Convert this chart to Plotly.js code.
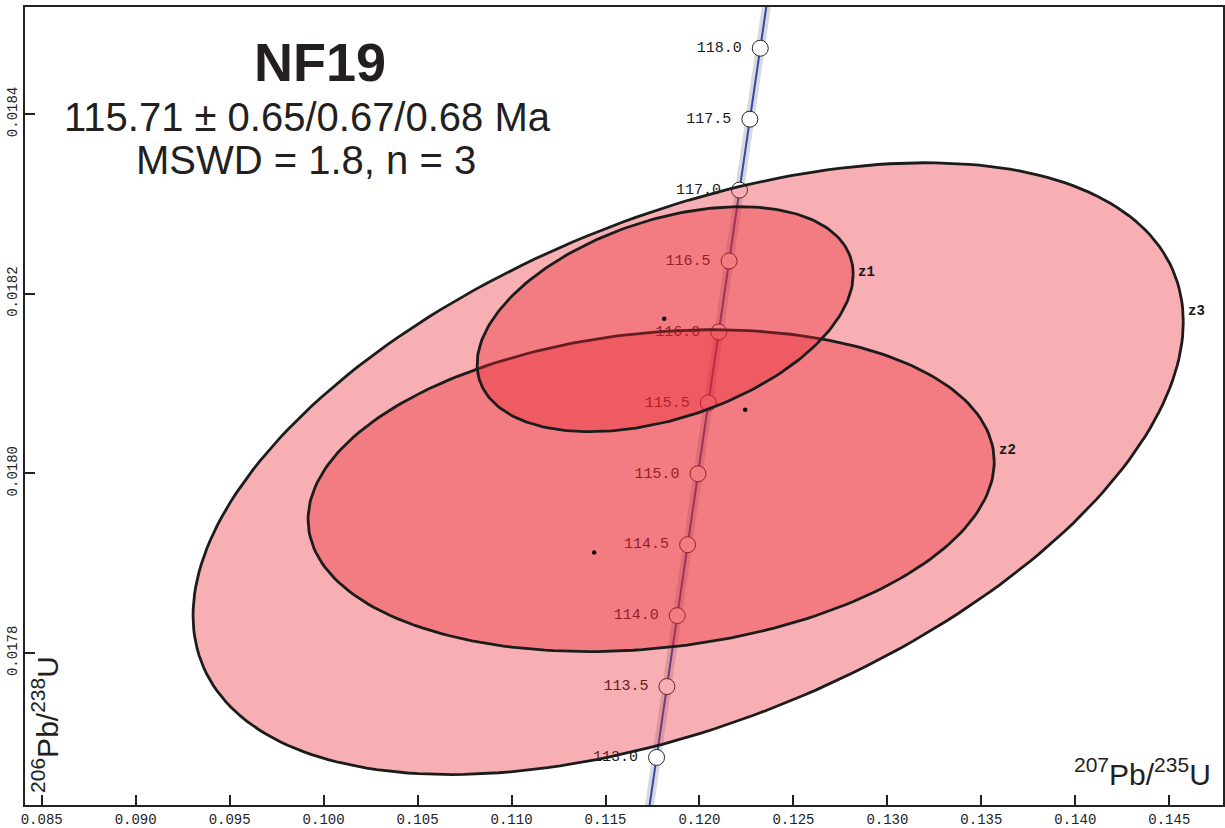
<!DOCTYPE html>
<html>
<head>
<meta charset="utf-8">
<script src="https://cdn.plot.ly/plotly-3.0.1.min.js"></script>
<style>
  html, body { margin: 0; padding: 0; background: #ffffff; }
  #chart { width: 1225px; height: 828px; }
</style>
</head>
<body>
<div id="chart"></div>
<script>
// ---------- data ----------
// Concordia age markers (Ma) and their 207Pb/235U, 206Pb/238U ratios
const markerAges = [113.0, 113.5, 114.0, 114.5, 115.0, 115.5, 116.0, 116.5, 117.0, 117.5, 118.0];
const markerX = [0.11771682, 0.11826735, 0.11881815, 0.11936922, 0.11992056, 0.12047217, 0.12102405, 0.12157621, 0.12212864, 0.12268134, 0.12323431];
const markerY = [0.01768366, 0.01776260, 0.01784154, 0.01792049, 0.01799945, 0.01807841, 0.01815738, 0.01823635, 0.01831533, 0.01839432, 0.01847331];
// Concordia curve points (extends past the frame)
const curveX = [0.11716656, 0.11771682, 0.11826735, 0.11881815, 0.11936922, 0.11992056, 0.12047217, 0.12102405, 0.12157621, 0.12212864, 0.12268134, 0.12323431, 0.12378755];
const curveY = [0.01760473, 0.01768366, 0.01776260, 0.01784154, 0.01792049, 0.01799945, 0.01807841, 0.01815738, 0.01823635, 0.01831533, 0.01839432, 0.01847331, 0.01855231];

// Analyses: error ellipses (centre, half-extent in x and y, correlation)
const grainNames = ['z1', 'z2', 'z3'];
const ellCenterX = [0.118175, 0.117430, 0.119399];
const ellCenterY = [0.0181716, 0.0179807, 0.0180052];
const ellHalfX = [0.010006, 0.018256, 0.026346];
const ellHalfY = [0.0001252, 0.0001792, 0.0003406];
const ellRho = [0.40, 0.18, 0.48];

// Small black points
const dotX = [0.118122, 0.122433, 0.114396];
const dotY = [0.0181722, 0.0180709, 0.0179117];

// x / y tick values
const xTicks = [0.085, 0.090, 0.095, 0.100, 0.105, 0.110, 0.115, 0.120, 0.125, 0.130, 0.135, 0.140, 0.145];
const yTicks = [0.0178, 0.0180, 0.0182, 0.0184];

const titleLines = ['NF19', '115.71 \u00b1 0.65/0.67/0.68 Ma', 'MSWD = 1.8, n = 3'];

// ---------- build ----------
const mono = 'Liberation Mono, Courier New, monospace';
const sans = 'Liberation Sans, Arial, Helvetica, sans-serif';

function ellipsePoints(i) {
  const xs = [], ys = [];
  const n = 240;
  const r = ellRho[i];
  const s = Math.sqrt(1 - r * r);
  for (let k = 0; k <= n; k++) {
    const t = 2 * Math.PI * k / n;
    xs.push(ellCenterX[i] + ellHalfX[i] * Math.cos(t));
    ys.push(ellCenterY[i] + ellHalfY[i] * (r * Math.cos(t) + s * Math.sin(t)));
  }
  return { xs, ys };
}

const traces = [];
// concordia uncertainty band
traces.push({
  x: curveX, y: curveY, mode: 'lines', type: 'scatter', hoverinfo: 'skip',
  line: { color: 'rgba(205,208,214,0.8)', width: 9 }, showlegend: false
});
// concordia line
traces.push({
  x: curveX, y: curveY, mode: 'lines', type: 'scatter', hoverinfo: 'skip',
  line: { color: '#3349a8', width: 2 }, showlegend: false
});
// age labels (offset by an invisible, larger marker)
traces.push({
  x: markerX, y: markerY, mode: 'markers+text', type: 'scatter',
  text: markerAges.map(a => a.toFixed(1)),
  textposition: 'middle left',
  textfont: { family: mono, size: 15, color: '#1a1a1a' },
  marker: { symbol: 'circle', size: 28, color: 'rgba(0,0,0,0)' },
  showlegend: false, cliponaxis: true, hoverinfo: 'skip'
});
// age markers
traces.push({
  x: markerX, y: markerY, mode: 'markers', type: 'scatter',
  marker: { symbol: 'circle', size: 16, color: '#ffffff', line: { color: '#222222', width: 1 } },
  showlegend: false, cliponaxis: true
});
// ellipses, largest first
[2, 1, 0].forEach(i => {
  const p = ellipsePoints(i);
  traces.push({
    x: p.xs, y: p.ys, mode: 'lines', type: 'scatter', fill: 'toself',
    fillcolor: 'rgba(233,34,43,0.36)',
    line: { color: '#1c1c1c', width: 2.8 },
    name: grainNames[i], showlegend: false, hoverinfo: 'name'
  });
});
// dots
traces.push({
  x: dotX, y: dotY, mode: 'markers', type: 'scatter',
  marker: { color: '#111111', size: 4.5 }, showlegend: false
});

const labelYShift = [2, 12, 11];
const annotations = grainNames.map((nm, i) => ({
  x: ellCenterX[i] + ellHalfX[i], y: ellCenterY[i] + ellRho[i] * ellHalfY[i],
  xref: 'x', yref: 'y', text: nm, showarrow: false,
  xanchor: 'left', yanchor: 'middle', xshift: 3, yshift: labelYShift[i],
  font: { family: mono, size: 14, color: '#1a1a1a', weight: 'bold' }
}));

annotations.push({
  xref: 'paper', yref: 'paper', x: 0.2463, y: 0.9314, text: '<b>' + titleLines[0] + '</b>',
  showarrow: false, xanchor: 'center', yanchor: 'middle',
  font: { family: sans, size: 54, color: '#231f20' }
});
annotations.push({
  xref: 'paper', yref: 'paper', x: 0.2355, y: 0.8625, text: titleLines[1],
  showarrow: false, xanchor: 'center', yanchor: 'middle',
  font: { family: sans, size: 40, color: '#231f20' }
});
annotations.push({
  xref: 'paper', yref: 'paper', x: 0.2346, y: 0.8086, text: titleLines[2],
  showarrow: false, xanchor: 'center', yanchor: 'middle',
  font: { family: sans, size: 40, color: '#231f20' }
});
// axis titles drawn inside the frame
annotations.push({
  xref: 'paper', yref: 'paper', x: 0.992, y: 0.041,
  text: '<sup>207</sup>Pb/<sup>235</sup>U', showarrow: false,
  xanchor: 'right', yanchor: 'middle',
  font: { family: sans, size: 30, color: '#231f20' }
});
annotations.push({
  xref: 'paper', yref: 'paper', x: 0.0167, y: 0.012,
  text: '<sup>206</sup>Pb/<sup>238</sup>U', showarrow: false, textangle: -90,
  xanchor: 'center', yanchor: 'bottom',
  font: { family: sans, size: 30, color: '#231f20' }
});

const layout = {
  width: 1225, height: 828,
  margin: { l: 25, r: 2, t: 7, b: 23, pad: 0 },
  paper_bgcolor: '#ffffff', plot_bgcolor: '#ffffff',
  showlegend: false,
  xaxis: {
    range: [0.084111, 0.147858],
    tickvals: xTicks, ticktext: xTicks.map(v => v.toFixed(3)),
    ticks: 'inside', ticklen: 10, tickwidth: 2, tickcolor: '#222222',
    showline: true, linecolor: '#222222', linewidth: 2, mirror: true,
    showgrid: false, zeroline: false,
    tickfont: { family: mono, size: 14, color: '#222222' }
  },
  yaxis: {
    range: [0.0176307, 0.0185192],
    tickvals: yTicks, ticktext: yTicks.map(v => v.toFixed(4)),
    tickangle: -90,
    ticks: 'inside', ticklen: 10, tickwidth: 2, tickcolor: '#222222',
    showline: true, linecolor: '#222222', linewidth: 2, mirror: true,
    showgrid: false, zeroline: false,
    tickfont: { family: mono, size: 14, color: '#222222' }
  },
  annotations: annotations
};

Plotly.newPlot('chart', traces, layout, { displayModeBar: false, staticPlot: true });
</script>
</body>
</html>
